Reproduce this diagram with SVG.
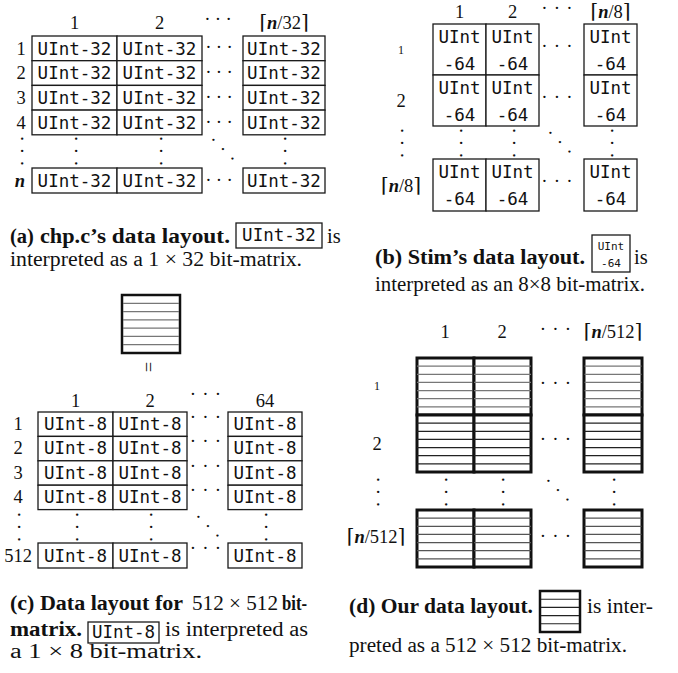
<svg xmlns="http://www.w3.org/2000/svg" width="678" height="673" viewBox="0 0 678 673">
  <style>
    .lbl { font-family: "Liberation Serif", serif; font-size: 18.5px; text-anchor: middle; fill: #111; }
    .sm { font-size: 12px; }
    .mono { font-family: "DejaVu Sans Mono", monospace; font-size: 17.5px; text-anchor: middle; fill: #111; }
    .tiny { font-size: 11px; }
    .cell { fill: #fff; stroke: #1a1a1a; stroke-width: 1.3; }
    .blk { fill: #fff; stroke: #111; stroke-width: 3; }
    /* ellipses: three centred dots, spread with letter-spacing, turned for vertical/diagonal */
    .dot { font-family: "Liberation Serif", serif; font-size: 19px; text-anchor: middle; fill: #111; }
    .h9 { letter-spacing: 4.3px; }
    .h11 { letter-spacing: 6.2px; }
    .v { letter-spacing: 6px; }
    .d { letter-spacing: 7px; }
    .cap { font-family: "Liberation Serif", serif; font-size: 20.5px; fill: #111; }
    .b { font-weight: bold; }
    .ceil { font-family: "DejaVu Serif", serif; font-weight: normal; font-style: normal; font-size: 20px; }
    .it { font-style: italic; font-weight: bold; }
    .stripe { stroke-width: 1.2; }
  </style>
  <defs>
    <!-- six rules splitting a 57px block into seven stripes -->
    <g id="blk-lines" class="stripe" stroke="currentColor">
      <line x1="0" y1="8.1" x2="57" y2="8.1"/>
      <line x1="0" y1="16.3" x2="57" y2="16.3"/>
      <line x1="0" y1="24.4" x2="57" y2="24.4"/>
      <line x1="0" y1="32.6" x2="57" y2="32.6"/>
      <line x1="0" y1="40.7" x2="57" y2="40.7"/>
      <line x1="0" y1="48.9" x2="57" y2="48.9"/>
    </g>
  </defs>

  <!-- ===== (a) chp.c layout: n rows of UInt-32 words ===== -->
  <g id="panel-a">
    <g id="a-head">
      <text class="lbl" x="74.5" y="29">1</text>
      <text class="lbl" x="159.5" y="29">2</text>
      <text class="dot h9" transform="translate(218 20)" x="2.15" y="5">···</text>
      <text class="lbl" x="284" y="29"><tspan class="ceil">⌈</tspan><tspan class="it">n</tspan>/32<tspan class="ceil">⌉</tspan></text>
    </g>
    <g id="a-row1">
      <text class="lbl" x="21" y="54.5">1</text>
      <rect class="cell" x="32" y="36" width="85" height="24.7"/>
      <rect class="cell" x="117" y="36" width="85" height="24.7"/>
      <rect class="cell" x="243" y="36" width="82" height="24.7"/>
      <text class="mono" x="74.5" y="54.5">UInt-32</text>
      <text class="mono" x="159.5" y="54.5">UInt-32</text>
      <text class="mono" x="284" y="54.5">UInt-32</text>
      <text class="dot h9" transform="translate(219 48.4)" x="2.15" y="5">···</text>
    </g>
    <g id="a-row2">
      <text class="lbl" x="21" y="79.2">2</text>
      <rect class="cell" x="32" y="60.7" width="85" height="24.7"/>
      <rect class="cell" x="117" y="60.7" width="85" height="24.7"/>
      <rect class="cell" x="243" y="60.7" width="82" height="24.7"/>
      <text class="mono" x="74.5" y="79.2">UInt-32</text>
      <text class="mono" x="159.5" y="79.2">UInt-32</text>
      <text class="mono" x="284" y="79.2">UInt-32</text>
      <text class="dot h9" transform="translate(219 73)" x="2.15" y="5">···</text>
    </g>
    <g id="a-row3">
      <text class="lbl" x="21" y="103.9">3</text>
      <rect class="cell" x="32" y="85.4" width="85" height="24.7"/>
      <rect class="cell" x="117" y="85.4" width="85" height="24.7"/>
      <rect class="cell" x="243" y="85.4" width="82" height="24.7"/>
      <text class="mono" x="74.5" y="103.9">UInt-32</text>
      <text class="mono" x="159.5" y="103.9">UInt-32</text>
      <text class="mono" x="284" y="103.9">UInt-32</text>
      <text class="dot h9" transform="translate(219 97.8)" x="2.15" y="5">···</text>
    </g>
    <g id="a-row4">
      <text class="lbl" x="21" y="128.6">4</text>
      <rect class="cell" x="32" y="110.1" width="85" height="24.7"/>
      <rect class="cell" x="117" y="110.1" width="85" height="24.7"/>
      <rect class="cell" x="243" y="110.1" width="82" height="24.7"/>
      <text class="mono" x="74.5" y="128.6">UInt-32</text>
      <text class="mono" x="159.5" y="128.6">UInt-32</text>
      <text class="mono" x="284" y="128.6">UInt-32</text>
      <text class="dot h9" transform="translate(219 122.5)" x="2.15" y="5">···</text>
    </g>
    <g id="a-gap">
      <text class="dot v" transform="translate(21 151) rotate(90)" x="3" y="5">···</text>
      <text class="dot v" transform="translate(74.5 151) rotate(90)" x="3" y="5">···</text>
      <text class="dot v" transform="translate(159.5 151) rotate(90)" x="3" y="5">···</text>
      <text class="dot v" transform="translate(284 151) rotate(90)" x="3" y="5">···</text>
      <text class="dot d" transform="translate(222 150) rotate(45)" x="3.5" y="5">···</text>
    </g>
    <g id="a-rown">
      <text class="lbl it" x="20" y="186.5">n</text>
      <rect class="cell" x="32" y="168" width="85" height="25"/>
      <rect class="cell" x="117" y="168" width="85" height="25"/>
      <rect class="cell" x="243" y="168" width="82" height="25"/>
      <text class="mono" x="74.5" y="186.5">UInt-32</text>
      <text class="mono" x="159.5" y="186.5">UInt-32</text>
      <text class="mono" x="284" y="186.5">UInt-32</text>
      <text class="dot h9" transform="translate(219 180.5)" x="2.15" y="5">···</text>
    </g>
    <g id="a-caption">
      <text class="cap b" x="10" y="243">(a)</text>
      <text class="cap b" x="40" y="243" font-family="DejaVu Sans Mono, monospace" font-size="17.5" textLength="50" lengthAdjust="spacingAndGlyphs">chp.c</text>
      <text class="cap b" x="90" y="243" textLength="140" lengthAdjust="spacingAndGlyphs">’s data layout.</text>
      <rect class="cell" x="236" y="223" width="86" height="25"/>
      <text class="mono" x="279" y="241">UInt-32</text>
      <text class="cap" x="327" y="243">is</text>
      <text class="cap" x="10" y="266" textLength="292" lengthAdjust="spacingAndGlyphs">interpreted as a 1 × 32 bit-matrix.</text>
    </g>
  </g>

  <!-- ===== (b) Stim layout: grid of UInt-64 words ===== -->
  <g id="panel-b">
    <g id="b-head">
      <text class="lbl" x="459.5" y="18">1</text>
      <text class="lbl" x="512.5" y="18">2</text>
      <text class="dot h11" transform="translate(557 8.5)" x="3.1" y="5">···</text>
      <text class="lbl" x="610.5" y="18"><tspan class="ceil">⌈</tspan><tspan class="it">n</tspan>/8<tspan class="ceil">⌉</tspan></text>
    </g>
    <g id="b-row1">
      <text class="lbl sm" x="401" y="54">1</text>
      <rect class="cell" x="433" y="24" width="53" height="51"/>
      <rect class="cell" x="486" y="24" width="53" height="51"/>
      <rect class="cell" x="584" y="24" width="53" height="51"/>
      <text class="mono" x="459.5" y="43">UInt</text>
      <text class="mono" x="459.5" y="70">-64</text>
      <text class="mono" x="512.5" y="43">UInt</text>
      <text class="mono" x="512.5" y="70">-64</text>
      <text class="mono" x="610.5" y="43">UInt</text>
      <text class="mono" x="610.5" y="70">-64</text>
      <text class="dot h11" transform="translate(557 47)" x="3.1" y="5">···</text>
    </g>
    <g id="b-row2">
      <text class="lbl" x="401" y="107">2</text>
      <rect class="cell" x="433" y="75" width="53" height="51"/>
      <rect class="cell" x="486" y="75" width="53" height="51"/>
      <rect class="cell" x="584" y="75" width="53" height="51"/>
      <text class="mono" x="459.5" y="94">UInt</text>
      <text class="mono" x="459.5" y="121">-64</text>
      <text class="mono" x="512.5" y="94">UInt</text>
      <text class="mono" x="512.5" y="121">-64</text>
      <text class="mono" x="610.5" y="94">UInt</text>
      <text class="mono" x="610.5" y="121">-64</text>
      <text class="dot h11" transform="translate(557 98)" x="3.1" y="5">···</text>
    </g>
    <g id="b-gap">
      <text class="dot v" transform="translate(401 143) rotate(90)" x="3" y="5">···</text>
      <text class="dot v" transform="translate(459.5 143) rotate(90)" x="3" y="5">···</text>
      <text class="dot v" transform="translate(512.5 143) rotate(90)" x="3" y="5">···</text>
      <text class="dot v" transform="translate(611 143) rotate(90)" x="3" y="5">···</text>
      <text class="dot d" transform="translate(559 143) rotate(45)" x="3.5" y="5">···</text>
    </g>
    <g id="b-rowlast">
      <text class="lbl" x="401" y="192"><tspan class="ceil">⌈</tspan><tspan class="it">n</tspan>/8<tspan class="ceil">⌉</tspan></text>
      <rect class="cell" x="433" y="159" width="53" height="52"/>
      <rect class="cell" x="486" y="159" width="53" height="52"/>
      <rect class="cell" x="584" y="159" width="53" height="52"/>
      <text class="mono" x="459.5" y="178">UInt</text>
      <text class="mono" x="459.5" y="205">-64</text>
      <text class="mono" x="512.5" y="178">UInt</text>
      <text class="mono" x="512.5" y="205">-64</text>
      <text class="mono" x="610.5" y="178">UInt</text>
      <text class="mono" x="610.5" y="205">-64</text>
      <text class="dot h11" transform="translate(557 182)" x="3.1" y="5">···</text>
    </g>
    <g id="b-caption">
      <text class="cap b" x="375" y="264" textLength="210" lengthAdjust="spacingAndGlyphs">(b) Stim’s data layout.</text>
      <rect class="cell" x="592" y="235" width="38" height="37" stroke-width="1.5"/>
      <text class="mono tiny" x="611" y="250">UInt</text>
      <text class="mono tiny" x="611" y="267">-64</text>
      <text class="cap" x="634" y="264">is</text>
      <text class="cap" x="375" y="291" textLength="270" lengthAdjust="spacingAndGlyphs">interpreted as an 8×8 bit-matrix.</text>
    </g>
  </g>

  <!-- ===== (c) 512 x 512 bit-matrix as UInt-8 words ===== -->
  <g id="panel-c">
    <g id="c-matrix">
      <rect x="122" y="295" width="58" height="58" fill="#fff" stroke="#111" stroke-width="2.5"/>
      <g stroke="#777" stroke-width="1.2">
        <line x1="123" y1="303.3" x2="179" y2="303.3"/>
        <line x1="123" y1="311.6" x2="179" y2="311.6"/>
        <line x1="123" y1="319.9" x2="179" y2="319.9"/>
        <line x1="123" y1="328.1" x2="179" y2="328.1"/>
        <line x1="123" y1="336.4" x2="179" y2="336.4"/>
        <line x1="123" y1="344.7" x2="179" y2="344.7"/>
      </g>
    </g>
    <text class="lbl" transform="translate(141.5 367) rotate(90)" font-size="26">=</text>
    <g id="c-head">
      <text class="lbl" x="75.5" y="407">1</text>
      <text class="lbl" x="150" y="407">2</text>
      <text class="dot h11" transform="translate(205.5 395)" x="3.1" y="5">···</text>
      <text class="lbl" x="265" y="407">64</text>
    </g>
    <g id="c-row1">
      <text class="lbl" x="18" y="430">1</text>
      <rect class="cell" x="38" y="412" width="75" height="24.4"/>
      <rect class="cell" x="113" y="412" width="74" height="24.4"/>
      <rect class="cell" x="228" y="412" width="74" height="24.4"/>
      <text class="mono" x="75.5" y="430">UInt-8</text>
      <text class="mono" x="150" y="430">UInt-8</text>
      <text class="mono" x="265" y="430">UInt-8</text>
      <text class="dot h11" transform="translate(205.5 418)" x="3.1" y="5">···</text>
    </g>
    <g id="c-row2">
      <text class="lbl" x="18" y="454.4">2</text>
      <rect class="cell" x="38" y="436.4" width="75" height="24.4"/>
      <rect class="cell" x="113" y="436.4" width="74" height="24.4"/>
      <rect class="cell" x="228" y="436.4" width="74" height="24.4"/>
      <text class="mono" x="75.5" y="454.4">UInt-8</text>
      <text class="mono" x="150" y="454.4">UInt-8</text>
      <text class="mono" x="265" y="454.4">UInt-8</text>
      <text class="dot h11" transform="translate(205.5 442.4)" x="3.1" y="5">···</text>
    </g>
    <g id="c-row3">
      <text class="lbl" x="18" y="478.8">3</text>
      <rect class="cell" x="38" y="460.8" width="75" height="24.4"/>
      <rect class="cell" x="113" y="460.8" width="74" height="24.4"/>
      <rect class="cell" x="228" y="460.8" width="74" height="24.4"/>
      <text class="mono" x="75.5" y="478.8">UInt-8</text>
      <text class="mono" x="150" y="478.8">UInt-8</text>
      <text class="mono" x="265" y="478.8">UInt-8</text>
      <text class="dot h11" transform="translate(205.5 466.8)" x="3.1" y="5">···</text>
    </g>
    <g id="c-row4">
      <text class="lbl" x="18" y="503.2">4</text>
      <rect class="cell" x="38" y="485.2" width="75" height="24.4"/>
      <rect class="cell" x="113" y="485.2" width="74" height="24.4"/>
      <rect class="cell" x="228" y="485.2" width="74" height="24.4"/>
      <text class="mono" x="75.5" y="503.2">UInt-8</text>
      <text class="mono" x="150" y="503.2">UInt-8</text>
      <text class="mono" x="265" y="503.2">UInt-8</text>
      <text class="dot h11" transform="translate(205.5 491.2)" x="3.1" y="5">···</text>
    </g>
    <g id="c-gap">
      <text class="dot v" transform="translate(18 527) rotate(90)" x="3" y="5">···</text>
      <text class="dot v" transform="translate(75.5 527) rotate(90)" x="3" y="5">···</text>
      <text class="dot v" transform="translate(150 527) rotate(90)" x="3" y="5">···</text>
      <text class="dot v" transform="translate(265 527) rotate(90)" x="3" y="5">···</text>
      <text class="dot d" transform="translate(207 527) rotate(45)" x="3.5" y="5">···</text>
    </g>
    <g id="c-row512">
      <text class="lbl" x="18" y="561.5">512</text>
      <rect class="cell" x="38" y="543" width="75" height="25"/>
      <rect class="cell" x="113" y="543" width="74" height="25"/>
      <rect class="cell" x="228" y="543" width="74" height="25"/>
      <text class="mono" x="75.5" y="561.5">UInt-8</text>
      <text class="mono" x="150" y="561.5">UInt-8</text>
      <text class="mono" x="265" y="561.5">UInt-8</text>
      <text class="dot h11" transform="translate(205.5 549)" x="3.1" y="5">···</text>
    </g>
    <g id="c-caption">
      <text class="cap b" x="10" y="610" textLength="173" lengthAdjust="spacingAndGlyphs">(c) Data layout for</text>
      <text class="cap" x="192" y="610" textLength="86" lengthAdjust="spacingAndGlyphs">512 × 512</text>
      <text class="cap b" x="282" y="610" textLength="25" lengthAdjust="spacingAndGlyphs">bit-</text>
      <text class="cap b" x="10" y="636" textLength="72" lengthAdjust="spacingAndGlyphs">matrix.</text>
      <rect class="cell" x="88" y="622" width="71" height="21"/>
      <text class="mono" x="123.5" y="637.5" font-size="16.5">UInt-8</text>
      <text class="cap" x="165" y="636" textLength="143" lengthAdjust="spacingAndGlyphs">is interpreted as</text>
      <text class="cap" x="10" y="658" textLength="192" lengthAdjust="spacingAndGlyphs">a 1 × 8 bit-matrix.</text>
    </g>
  </g>

  <!-- ===== (d) our layout: grid of 512 x 512 blocks ===== -->
  <g id="panel-d">
    <g id="d-head">
      <text class="lbl" x="445" y="338">1</text>
      <text class="lbl" x="502" y="338">2</text>
      <text class="dot h11" transform="translate(555.5 330)" x="3.1" y="5">···</text>
      <text class="lbl" x="613" y="338"><tspan class="ceil">⌈</tspan><tspan class="it">n</tspan>/512<tspan class="ceil">⌉</tspan></text>
    </g>
    <g id="d-row1" color="#777">
      <text class="lbl sm" x="377" y="390">1</text>
      <rect class="blk" x="417" y="358" width="57" height="57"/>
      <use href="#blk-lines" x="417" y="358"/>
      <rect class="blk" x="474" y="358" width="57" height="57"/>
      <use href="#blk-lines" x="474" y="358"/>
      <rect class="blk" x="584" y="358" width="58" height="57"/>
      <use href="#blk-lines" x="584.5" y="358"/>
      <text class="dot h11" transform="translate(555.5 384)" x="3.1" y="5">···</text>
    </g>
    <g id="d-row2" color="#222">
      <text class="lbl" x="377" y="450">2</text>
      <rect class="blk" x="417" y="415" width="57" height="57"/>
      <use href="#blk-lines" x="417" y="415"/>
      <rect class="blk" x="474" y="415" width="57" height="57"/>
      <use href="#blk-lines" x="474" y="415"/>
      <rect class="blk" x="584" y="415" width="58" height="57"/>
      <use href="#blk-lines" x="584.5" y="415"/>
      <text class="dot h11" transform="translate(555.5 440)" x="3.1" y="5">···</text>
    </g>
    <g id="d-gap">
      <text class="dot v" transform="translate(377 492) rotate(90)" x="3" y="5">···</text>
      <text class="dot v" transform="translate(445 492) rotate(90)" x="3" y="5">···</text>
      <text class="dot v" transform="translate(502 492) rotate(90)" x="3" y="5">···</text>
      <text class="dot v" transform="translate(613 492) rotate(90)" x="3" y="5">···</text>
      <text class="dot d" transform="translate(557 491) rotate(45)" x="3.5" y="5">···</text>
    </g>
    <g id="d-rowlast" color="#555">
      <text class="lbl" x="376" y="543"><tspan class="ceil">⌈</tspan><tspan class="it">n</tspan>/512<tspan class="ceil">⌉</tspan></text>
      <rect class="blk" x="417" y="510" width="57" height="57"/>
      <use href="#blk-lines" x="417" y="510"/>
      <rect class="blk" x="474" y="510" width="57" height="57"/>
      <use href="#blk-lines" x="474" y="510"/>
      <rect class="blk" x="584" y="510" width="58" height="57"/>
      <use href="#blk-lines" x="584.5" y="510"/>
      <text class="dot h11" transform="translate(555.5 537)" x="3.1" y="5">···</text>
    </g>
    <g id="d-caption">
      <text class="cap b" x="349" y="613" textLength="184" lengthAdjust="spacingAndGlyphs">(d) Our data layout.</text>
      <rect x="540" y="591" width="40" height="41" fill="#fff" stroke="#111" stroke-width="2.5"/>
      <g stroke="#222" stroke-width="1.1">
        <line x1="541" y1="599.2" x2="579" y2="599.2"/>
        <line x1="541" y1="607.4" x2="579" y2="607.4"/>
        <line x1="541" y1="615.6" x2="579" y2="615.6"/>
        <line x1="541" y1="623.8" x2="579" y2="623.8"/>
      </g>
      <text class="cap" x="587" y="613" textLength="66" lengthAdjust="spacingAndGlyphs">is inter-</text>
      <text class="cap" x="349" y="652" textLength="278" lengthAdjust="spacingAndGlyphs">preted as a 512 × 512 bit-matrix.</text>
    </g>
  </g>
</svg>
